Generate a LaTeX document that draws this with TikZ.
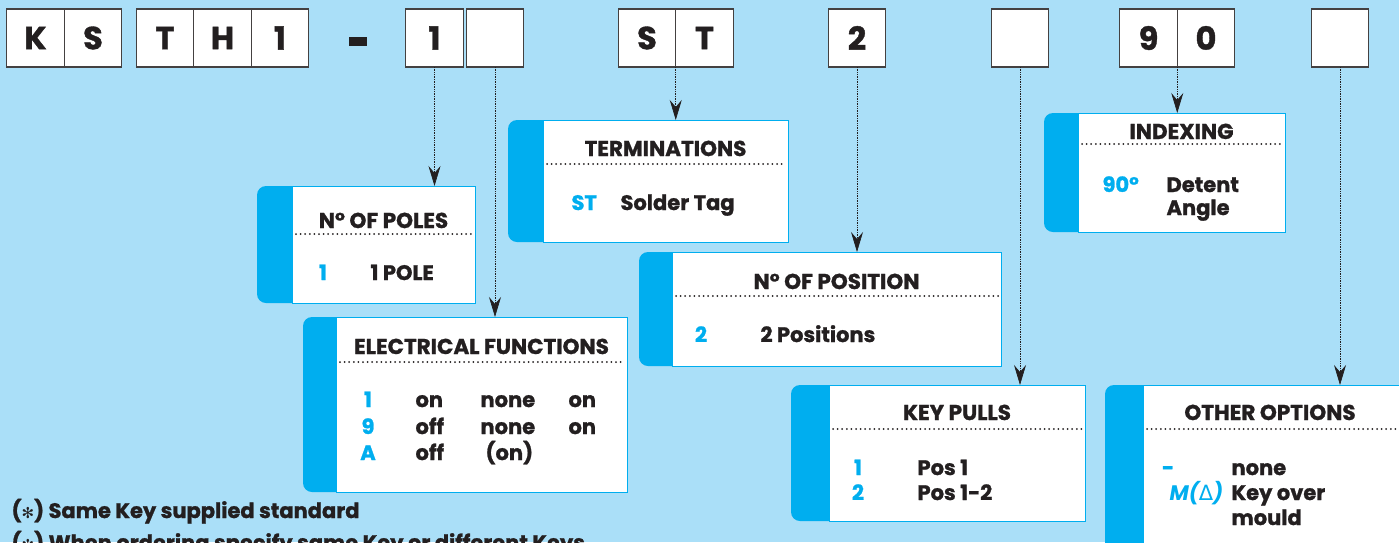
\documentclass[tikz,border=0pt]{standalone}
\usepackage{fontspec}
\setmainfont{Poppins}[BoldFeatures={FakeBold=1.2}]
\newfontfamily\symfont{DejaVu Sans}
\usetikzlibrary{arrows.meta,positioning}

\definecolor{skyblue}{RGB}{170,223,248}
\definecolor{tabblue}{RGB}{0,174,239}
\definecolor{ink}{RGB}{35,31,32}

\tikzset{
	cell/.style={draw=ink!85, line width=1.2pt, fill=white, minimum width=57.5pt, minimum height=58pt, inner sep=0pt, outer sep=0pt, text=ink, font=\bfseries\fontsize{32}{32}\selectfont},
	panel/.style={draw=tabblue, line width=1pt, fill=white, anchor=north west, inner sep=0pt, outer sep=0pt},
	tab/.style={fill=tabblue, rounded corners=9pt},
	head/.style={anchor=base, text=ink, font=\bfseries\fontsize{21.5}{21.5}\selectfont},
	txt/.style={anchor=base west, text=ink, font=\bfseries\fontsize{21}{21}\selectfont},
	code/.style={anchor=base, text=tabblue, font=\bfseries\fontsize{21}{21}\selectfont},
	dots/.style={ink, line width=2pt, line cap=round, dash pattern=on 0pt off 4.6pt},
	lead/.style={ink, line width=0.7pt, densely dotted, -{Stealth[length=20pt, width=12pt, inset=7pt]}},
}

\begin{document}
\begin{tikzpicture}[x=1pt, y=-1pt]
	\useasboundingbox (0,0) rectangle (1399,542);
	\fill[skyblue] (0,0) rectangle (1399,542);

	% code boxes along the top
	\node[cell] (k) at (35.5,38) {K};
	\node[cell, right=0pt of k] (s1) {S};
	\node[cell] (t1) at (165,38) {T};
	\node[cell, right=0pt of t1] (h) {H};
	\node[cell, right=0pt of h] (one) {1};
	\node[fill=ink, minimum width=18pt, minimum height=9pt, inner sep=0pt] (dash) at (358,41.5) {};
	\node[cell] (poleno) at (434.5,38) {1};
	\node[cell] (funcno) at (495,38) {};
	\node[cell] (s2) at (647,38) {S};
	\node[cell, right=0pt of s2] (t2) {T};
	\node[cell] (posno) at (857,38) {2};
	\node[cell] (pullno) at (1020,38) {};
	\node[cell] (n9) at (1148.5,38) {9};
	\node[cell, right=0pt of n9] (n0) {0};
	\node[cell] (optno) at (1340,38) {};

	% panels
	\fill[tab] (257,186) rectangle (305,303);
	\node[panel, minimum width=183pt, minimum height=117pt] (poles) at (292,186) {};
	\fill[tab] (303,317) rectangle (350,492);
	\node[panel, minimum width=291pt, minimum height=175pt] (elec) at (336,317) {};
	\fill[tab] (508,120) rectangle (556,242);
	\node[panel, minimum width=245pt, minimum height=122pt] (term) at (543,120) {};
	\fill[tab] (639,252) rectangle (685,366);
	\node[panel, minimum width=329pt, minimum height=114pt] (pos) at (672,252) {};
	\fill[tab] (791,385) rectangle (843,521);
	\node[panel, minimum width=256pt, minimum height=136pt] (pulls) at (829,385) {};
	\fill[tab] (1044,113) rectangle (1092,232);
	\node[panel, minimum width=207pt, minimum height=119pt] (idx) at (1078,113) {};
	\fill[tab] (1105,385) rectangle (1157,575);
	\node[panel, minimum width=259pt, minimum height=190pt] (other) at (1143,385) {};

	% leaders
	\draw[lead] (poleno.south) -- (poleno.south |- poles.north);
	\draw[lead] (funcno.south) -- (funcno.south |- elec.north);
	\draw[lead] (s2.south east) -- (s2.south east |- term.north);
	\draw[lead] (posno.south) -- (posno.south |- pos.north);
	\draw[lead] (pullno.south) -- (pullno.south |- pulls.north);
	\draw[lead] (n9.south east) -- (n9.south east |- idx.north);
	\draw[lead] (optno.south) -- (optno.south |- other.north);

	% N of poles
	\node[head] (polesT) at (383.5,228) {N° OF POLES};
	\draw[dots] (296,234) -- (472,234);
	\node[code] (polesK) at (323,280) {1};
	\node[txt] (polesV) at (367,280) {1 POLE};

	% electrical functions
	\node[head] (elecT) at (481.5,354) {ELECTRICAL FUNCTIONS};
	\draw[dots] (340,362) -- (624,362);
	\node[code] (elecK1) at (368,407) {1};
	\node[code] (elecK2) at (368,434) {9};
	\node[code] (elecK3) at (368,460) {A};
	\node[txt] (elecA1) at (412,407) {on};
	\node[txt] (elecA2) at (412,434) {off};
	\node[txt] (elecA3) at (412,460) {off};
	\node[txt] (elecB1) at (477,407) {none};
	\node[txt] (elecB2) at (477,434) {none};
	\node[txt] (elecB3) at (482,460) {(on)};
	\node[txt] (elecC1) at (565,407) {on};
	\node[txt] (elecC2) at (565,434) {on};

	% terminations
	\node[head] (termT) at (665.5,156) {TERMINATIONS};
	\draw[dots] (547,164) -- (785,164);
	\node[code, anchor=base west] (termK) at (568,210) {ST};
	\node[txt] (termV) at (617,210) {Solder Tag};

	% N of position
	\node[head] (posT) at (836.5,289) {N° OF POSITION};
	\draw[dots] (676,296) -- (998,296);
	\node[code] (posK) at (701,342) {2};
	\node[txt] (posV) at (757,342) {2 Positions};

	% key pulls
	\node[head] (pullsT) at (957,420) {KEY PULLS};
	\draw[dots] (833,429) -- (1082,429);
	\node[code] (pullsK1) at (858,475) {1};
	\node[code] (pullsK2) at (858,500) {2};
	\node[txt] (pullsV1) at (914,475) {Pos 1};
	\node[txt] (pullsV2) at (914,500) {Pos 1-2};

	% indexing
	\node[head] (idxT) at (1181.5,139) {INDEXING};
	\draw[dots] (1082,144) -- (1282,144);
	\node[code, anchor=base west] (idxK) at (1099,192) {90°};
	\node[txt] (idxV1) at (1163,192) {Detent};
	\node[txt] (idxV2) at (1163,215) {Angle};

	% other options
	\node[head] (otherT) at (1270,420) {OTHER OPTIONS};
	\draw[dots] (1147,429) -- (1399,429);
	\node[code] (otherK1) at (1168,475) {-};
	\node[code, anchor=base west] (otherK2) at (1166,500) {\itshape M({\symfont\upshape\mdseries Δ})};
	\node[txt] (otherV1) at (1228,475) {none};
	\node[txt] (otherV2) at (1228,500) {Key over};
	\node[txt] (otherV3) at (1228,525) {mould};

	% notes
	\node[txt] (note1) at (8,518) {({\symfont\fontsize{15}{15}\selectfont ✻}) Same Key supplied standard};
	\node[txt] (note2) at (8,550) {({\symfont\fontsize{15}{15}\selectfont ✻}) When ordering specify same Key or different Keys};
\end{tikzpicture}
\end{document}
